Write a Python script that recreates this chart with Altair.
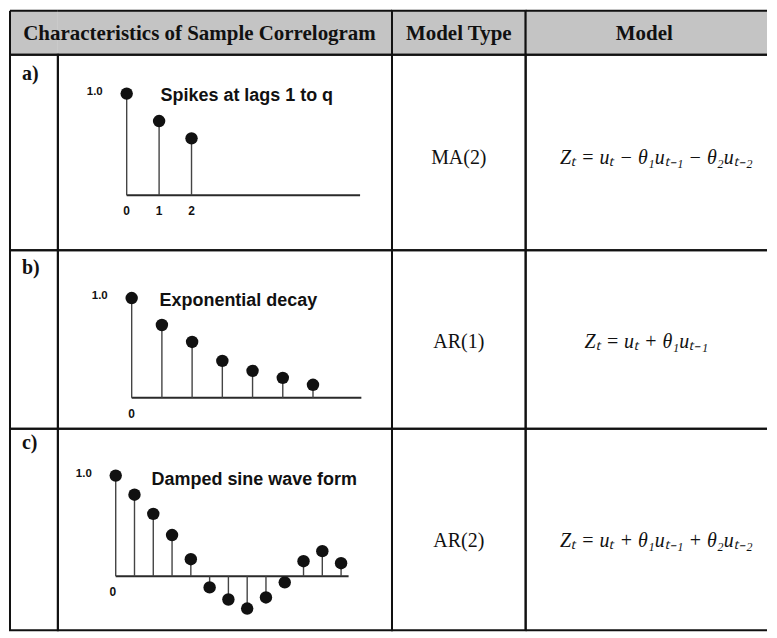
import altair as alt
import pandas as pd

# ---------------- data ----------------
header_titles = ["Characteristics of Sample Correlogram", "Model Type", "Model"]
row_labels = ["a)", "b)", "c)"]
panel_titles = ["Spikes at lags 1 to q", "Exponential decay", "Damped sine wave form"]
model_types = ["MA(2)", "AR(1)", "AR(2)"]
models = [
    "Zₜ = uₜ − θ₁uₜ₋₁ − θ₂uₜ₋₂",
    "Zₜ = uₜ + θ₁uₜ₋₁",
    "Zₜ = uₜ + θ₁uₜ₋₁ + θ₂uₜ₋₂",
]

acf_a = [1.0, 0.73, 0.56]
acf_b = [1.0, 0.73, 0.56, 0.37, 0.27, 0.20, 0.13]
acf_c = [1.0, 0.81, 0.62, 0.41, 0.17, -0.11, -0.23, -0.32, -0.21, -0.06, 0.15, 0.25, 0.13]
acf_series = [acf_a, acf_b, acf_c]
axis_end = [7.2, 7.6, 12.4]          # lag where the horizontal axis line stops
tick_lags = [[0, 1, 2], [0], [0]]
tick_texts = [["0", "1", "2"], ["0"], ["0"]]
top_label = "1.0"

# ---------------- layout (style only) ----------------
COL = [48, 335, 134, 242]
ROW = [44, 196, 179, 202]
BORDER = "#111111"
HEADER_FILL = "#c4c4c4"
SERIF = "Liberation Serif"
SANS = "Liberation Sans"

# panel geometry: (x px of lag 0, y px of value 0, px per lag, px per unit)
GEO = [(69, 141, 32.5, 102), (74, 148, 30.3, 100), (58, 148, 18.83, 101)]
TITLE_POS = [(103, 41), (102, 51), (94, 51)]
TICK_DX = [0, 0, -3]

LABEL_Y = [19, 18, 14]
TEXT_BASE_Y = [110, 98, 119]
MODEL_X = [131, 121, 131]


def edge_rules(w, h, sides):
    d = pd.DataFrame({"k": [0]})
    r = alt.Chart(d).mark_rule(color=BORDER, strokeWidth=2)
    out = []
    if "top" in sides:
        out.append(r.encode(x=alt.value(0), x2=alt.value(w), y=alt.value(0)))
    if "bottom" in sides:
        out.append(r.encode(x=alt.value(0), x2=alt.value(w), y=alt.value(h)))
    if "left" in sides:
        out.append(r.encode(x=alt.value(0), y=alt.value(0), y2=alt.value(h)))
    return out


def text_cell(w, h, text, x, y, size, font=SERIF, weight="normal", style="normal",
              align="center", baseline="middle", fill=None, sides=None):
    layers = []
    if text:
        d = pd.DataFrame({"t": [text]})
        layers.append(alt.Chart(d).mark_text(
            font=font, fontSize=size, fontWeight=weight, fontStyle=style,
            align=align, baseline=baseline, color="#111111"
        ).encode(text="t:N", x=alt.value(x), y=alt.value(y)))
    vb = {}
    if fill is not None:
        vb["fill"] = fill
    if sides is not None:
        vb["stroke"] = "transparent"
        layers += edge_rules(w, h, sides)
    ch = layers[0] if len(layers) == 1 else alt.layer(*layers)
    if vb:
        ch = ch.properties(view=alt.ViewBackground(**vb))
    return ch.properties(width=w, height=h)


def panel(i, H):
    ox, oy, ppl, ppu = GEO[i]
    W = COL[1]
    xs = alt.Scale(domain=[-ox / ppl, (W - ox) / ppl], nice=False, zero=False)
    ys = alt.Scale(domain=[(oy - H) / ppu, oy / ppu], nice=False, zero=False)
    vals = acf_series[i]
    df = pd.DataFrame({"lag": list(range(len(vals))), "acf": vals, "zero": [0] * len(vals)})
    X = alt.X("lag:Q", scale=xs, axis=None)
    Y = alt.Y("acf:Q", scale=ys, axis=None)

    base_df = pd.DataFrame({"x0": [0], "x1": [axis_end[i]], "y": [0]})
    baseline = alt.Chart(base_df).mark_rule(color="#2a2a2a", strokeWidth=2).encode(
        x=alt.X("x0:Q", scale=xs, axis=None), x2="x1:Q",
        y=alt.Y("y:Q", scale=ys, axis=None))

    stems = alt.Chart(df).mark_rule(color="#444444", strokeWidth=1.4).encode(
        x=X, y=Y, y2="zero:Q")

    dots = alt.Chart(df).mark_circle(size=155, color="#111111", opacity=1).encode(x=X, y=Y)

    tdf = pd.DataFrame({"lag": tick_lags[i], "t": tick_texts[i], "y": [0] * len(tick_lags[i])})
    ticks = alt.Chart(tdf).mark_text(
        font=SANS, fontSize=12, fontWeight="bold", baseline="middle", align="center",
        dy=16, dx=TICK_DX[i], color="#111111"
    ).encode(x=alt.X("lag:Q", scale=xs, axis=None), y=alt.Y("y:Q", scale=ys, axis=None), text="t:N")

    ldf = pd.DataFrame({"lag": [0], "acf": [1.0], "t": [top_label]})
    toplab = alt.Chart(ldf).mark_text(
        font=SANS, fontSize=11.5, fontWeight="bold", baseline="middle", align="center",
        dx=-32, dy=-2, color="#111111"
    ).encode(x=X, y=Y, text="t:N")

    tx, ty = TITLE_POS[i]
    title = alt.Chart(pd.DataFrame({"t": [panel_titles[i]]})).mark_text(
        font=SANS, fontSize=18, fontWeight="bold", align="left", baseline="middle",
        color="#111111"
    ).encode(x=alt.value(tx), y=alt.value(ty), text="t:N")

    return alt.layer(baseline, stems, dots, ticks, toplab, title).properties(width=W, height=H)


cells = [
    text_cell(COL[0], ROW[0], "", 0, 0, 10, fill=HEADER_FILL, sides=["top", "bottom", "left"]),
    text_cell(COL[1], ROW[0], header_titles[0], 190 - COL[0], 23, 21, weight="bold",
              fill=HEADER_FILL, sides=["top", "bottom"]),
    text_cell(COL[2], ROW[0], header_titles[1], COL[2] / 2, 23, 21, weight="bold", fill=HEADER_FILL),
    text_cell(COL[3], ROW[0], header_titles[2], 119, 23, 21, weight="bold", fill=HEADER_FILL,
              sides=["top", "bottom", "left"]),
]
for i in range(3):
    H = ROW[i + 1]
    cells += [
        text_cell(COL[0], H, row_labels[i], 12, LABEL_Y[i], 20, weight="bold", align="left"),
        panel(i, H),
        text_cell(COL[2], H, model_types[i], COL[2] / 2, TEXT_BASE_Y[i], 20, baseline="alphabetic"),
        text_cell(COL[3], H, models[i], MODEL_X[i], TEXT_BASE_Y[i], 20, style="italic",
                  baseline="alphabetic", sides=["top", "bottom", "left"]),
    ]

chart = alt.concat(*cells, columns=4, spacing=0, bounds="flush").configure_view(
    stroke=BORDER, strokeWidth=2
).properties(padding=0)

chart.save("out.html", embed_options={"renderer": "svg", "actions": False})
